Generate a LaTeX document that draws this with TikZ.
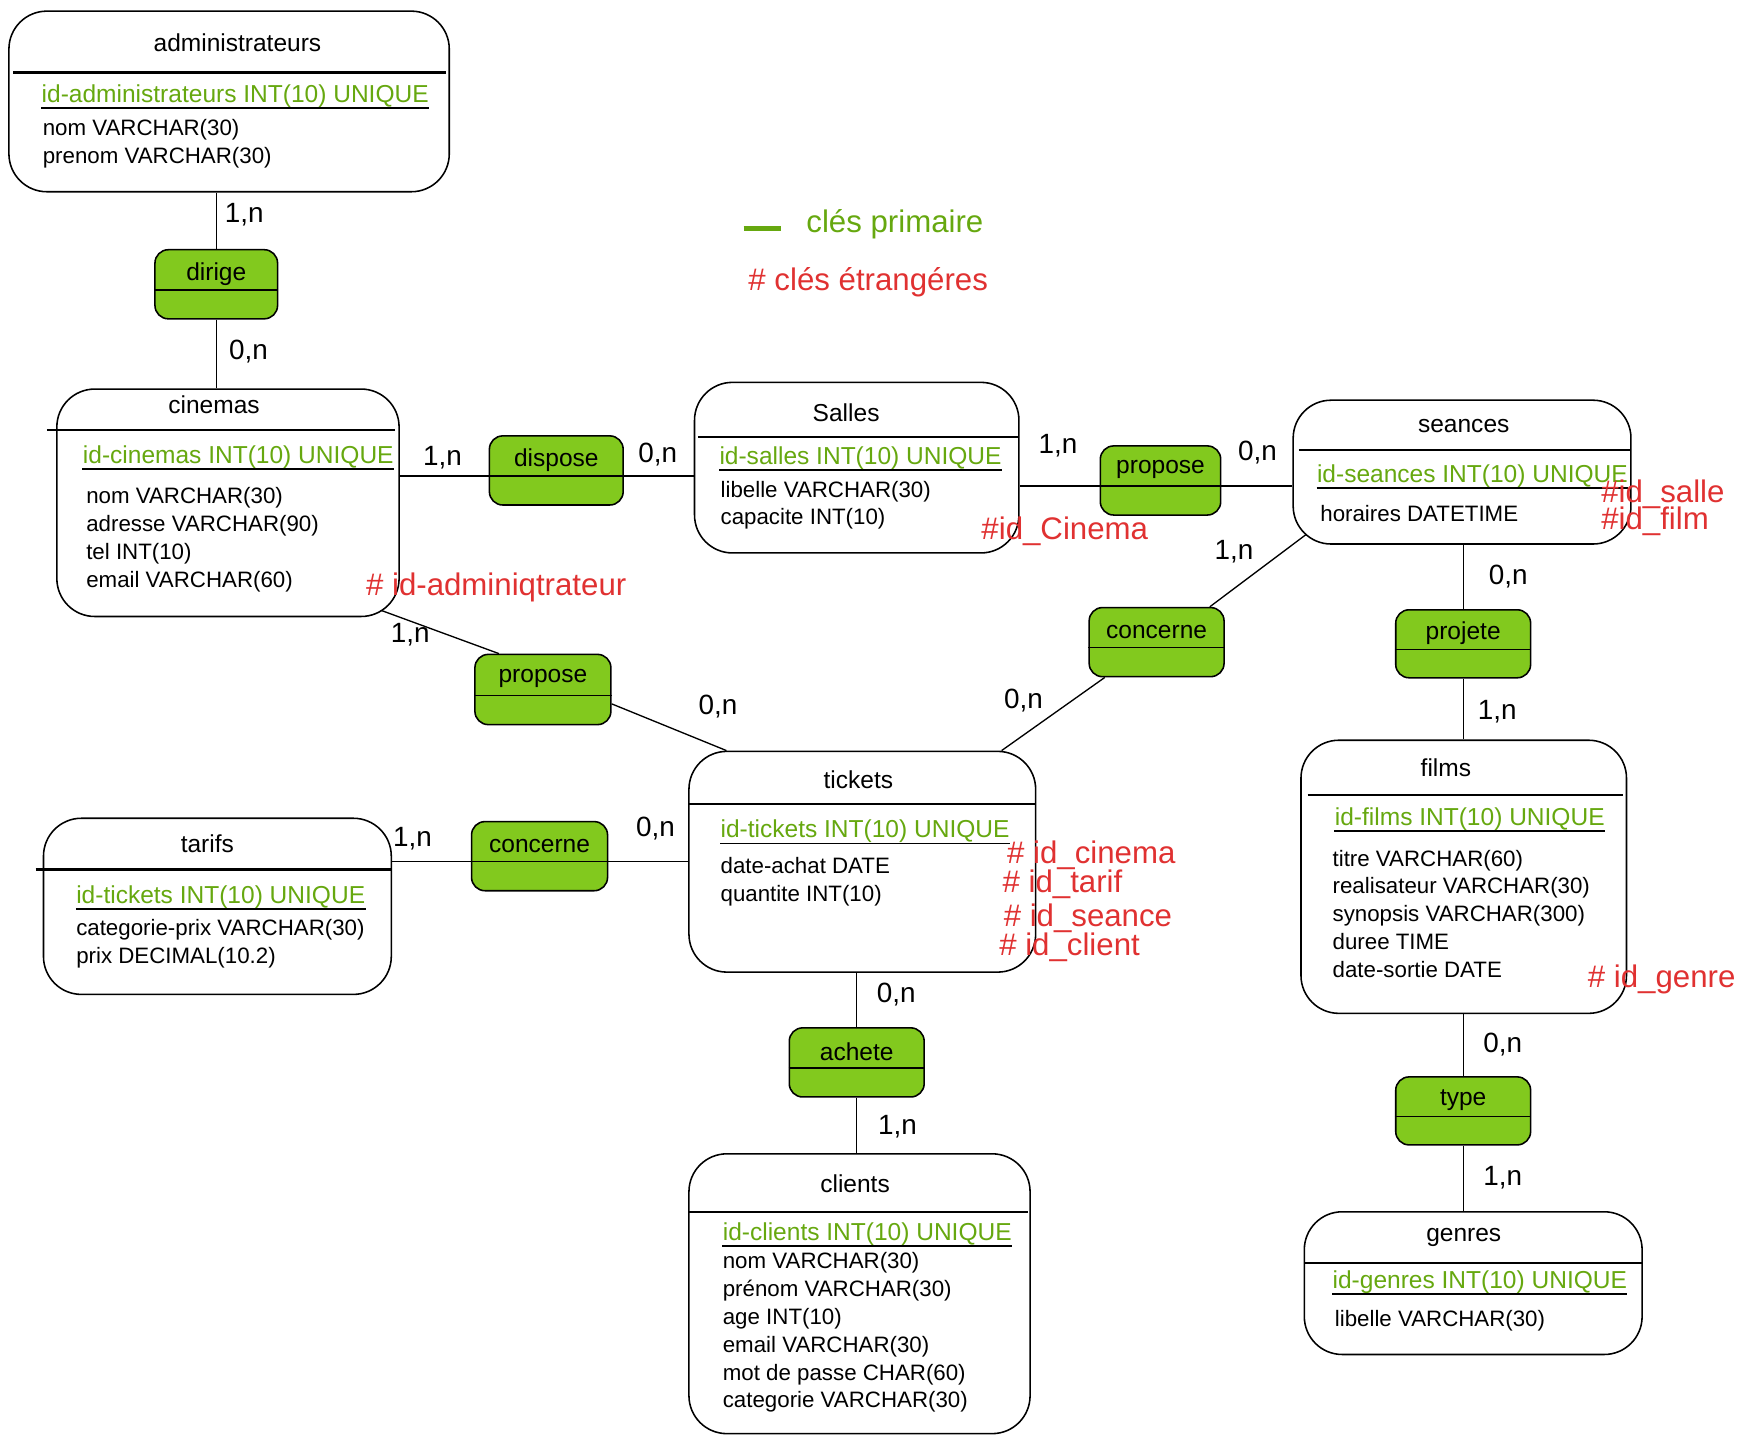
\documentclass[tikz,border=0pt]{standalone}
\usepackage{fontspec}
\setmainfont{Liberation Sans}
\usetikzlibrary{calc,fit,backgrounds}
\definecolor{vertfond}{HTML}{82C91E}
\definecolor{vertcle}{HTML}{66A80F}
\definecolor{rougecle}{HTML}{E03131}
\tikzset{
	entite/.style={draw, line width=0.7pt, rounded corners=17pt, fill=white, inner sep=0pt},
	assoc/.style={draw, line width=0.7pt, rounded corners=6pt, fill=vertfond, inner sep=0pt},
	titre/.style={font=\fontsize{11}{13}\selectfont, inner sep=0pt},
	cle/.style={font=\fontsize{11}{13}\selectfont, text=vertcle, inner sep=0pt, anchor=west},
	champs/.style={font=\fontsize{10}{12.5}\selectfont, align=left, inner sep=0pt, anchor=north west},
	etrangere/.style={font=\fontsize{14}{16}\selectfont, text=rougecle, inner sep=0pt, anchor=west},
	legende/.style={font=\fontsize{14}{16}\selectfont, inner sep=0pt, anchor=west},
	card/.style={font=\fontsize{12.5}{14}\selectfont, inner sep=0pt},
	lien/.style={line width=0.6pt},
	entete/.style={line width=1pt},
	souligne/.style={line width=0.8pt}
}
\def\assoc(#1)(#2)(#3)#4{\node[assoc, fit={(#2) (#3)}] (#1) {};
	\node[titre] (l-#1) at ($(#1.north)!0.35!(#1.south)$) {#4};
	\coordinate (#1-sep) at ($(#1.north west)!0.58!(#1.south west)$);}
\def\assocsep(#1){\draw[lien] (#1-sep) -- (#1-sep -| #1.east);}
\def\clep(#1)(#2)#3{\node[cle] (#1) at (#2) {#3};
	\draw[souligne] (#1.south west) -- (#1.south east);}

\begin{document}
\begin{tikzpicture}[x=0.5pt, y=-0.5pt]
		\useasboundingbox (0,0) rectangle (1568,1304);
		
		%%%%% ENTITES %%%%%
		
		\node[entite, fit={(8,10) (403,172)}] (administrateurs) {};
		\node[titre] (t-administrateurs) at (213,38) {administrateurs};
		\draw[entete] (12,65) -- (400,65);
		\clep(pk-administrateurs)(37,86){id-administrateurs INT(10) UNIQUE}
		\node[champs] (c-administrateurs) at (38,107) {nom VARCHAR(30)\\prenom VARCHAR(30)};
		
		\node[entite, fit={(51,349) (358,553)}] (cinemas) {};
		\node[titre] (t-cinemas) at (192,363) {cinemas};
		\draw[entete] (42,386) -- (354,386);
		\clep(pk-cinemas)(74,410){id-cinemas INT(10) UNIQUE}
		\node[champs] (c-cinemas) at (77,437) {nom VARCHAR(30)\\adresse VARCHAR(90)\\tel INT(10)\\email VARCHAR(60)};
		\node[etrangere] (fk-cinemas) at (328,527) {\# id-adminiqtrateur};
		
		\node[entite, fit={(623,343) (914,496)}] (salles) {};
		\node[titre] (t-salles) at (759,370) {Salles};
		\draw[entete] (626,392) -- (914,392);
		\clep(pk-salles)(645,411){id-salles INT(10) UNIQUE}
		\node[champs] (c-salles) at (646,431) {libelle VARCHAR(30)\\capacite INT(10)};
		\node[etrangere] (fk-salles) at (880,477) {\#id\_Cinema};
		
		\node[entite, fit={(1160,359) (1463,488)}] (seances) {};
		\node[titre] (t-seances) at (1313,382) {seances};
		\draw[entete] (1165,404) -- (1462,404);
		\clep(pk-seances)(1181,427){id-seances INT(10) UNIQUE}
		\node[champs] (c-seances) at (1184,453) {horaires DATETIME};
		\node[etrangere] (fk-seances-1) at (1436,443) {\#id\_salle};
		\node[etrangere] (fk-seances-2) at (1436,468) {\#id\_film};
		
		\node[entite, fit={(1167,664) (1459,909)}] (films) {};
		\node[titre] (t-films) at (1297,689) {films};
		\draw[entete] (1173,713) -- (1456,713);
		\clep(pk-films)(1197,735){id-films INT(10) UNIQUE}
		\node[champs] (c-films) at (1195,762) {titre VARCHAR(60)\\realisateur VARCHAR(30)\\synopsis VARCHAR(300)\\duree TIME\\date-sortie DATE};
		\node[etrangere] (fk-films) at (1424,879) {\# id\_genre};
		
		\node[entite, fit={(1170,1087) (1473,1215)}] (genres) {};
		\node[titre] (t-genres) at (1313,1110) {genres};
		\draw[entete] (1170,1133) -- (1473,1133);
		\clep(pk-genres)(1195,1150){id-genres INT(10) UNIQUE}
		\node[champs] (c-genres) at (1197,1175) {libelle VARCHAR(30)};
		
		\node[entite, fit={(618,674) (929,872)}] (tickets) {};
		\node[titre] (t-tickets) at (770,699) {tickets};
		\draw[entete] (618,721) -- (928,721);
		\clep(pk-tickets)(646,746){id-tickets INT(10) UNIQUE}
		\node[champs] (c-tickets) at (646,769) {date-achat DATE\\quantite INT(10)};
		\node[etrangere] (fk-tickets-1) at (903,767) {\# id\_cinema};
		\node[etrangere] (fk-tickets-2) at (899,793) {\# id\_tarif};
		\node[etrangere] (fk-tickets-3) at (900,824) {\# id\_seance};
		\node[etrangere] (fk-tickets-4) at (896,850) {\# id\_client};
		
		\node[entite, fit={(39,734) (351,892)}] (tarifs) {};
		\node[titre] (t-tarifs) at (186,757) {tarifs};
		\draw[entete] (32,780) -- (351,780);
		\clep(pk-tarifs)(68,805){id-tickets INT(10) UNIQUE}
		\node[champs] (c-tarifs) at (68,824) {categorie-prix VARCHAR(30)\\prix DECIMAL(10.2)};
		
		\node[entite, fit={(618,1035) (924,1286)}] (clients) {};
		\node[titre] (t-clients) at (767,1062) {clients};
		\draw[entete] (618,1087) -- (922,1087);
		\clep(pk-clients)(648,1107){id-clients INT(10) UNIQUE}
		\node[champs] (c-clients) at (648,1123) {nom VARCHAR(30)\\prénom VARCHAR(30)\\age INT(10)\\email VARCHAR(30)\\mot de passe CHAR(60)\\categorie VARCHAR(30)};
		
		%%%%% ASSOCIATIONS %%%%%
		
		\assoc(dirige)(139,224)(249,286){dirige} \assocsep(dirige)
		\assoc(dispose)(439,391)(559,453){dispose}
		\assoc(propose-s)(987,400)(1095,462){propose}
		\assoc(concerne-s)(977,545)(1098,607){concerne} \assocsep(concerne-s)
		\assoc(projete)(1252,547)(1373,608){projete} \assocsep(projete)
		\assoc(propose-c)(426,587)(548,650){propose} \assocsep(propose-c)
		\assoc(concerne-t)(423,737)(545,799){concerne}
		\assoc(achete)(708,922)(829,984){achete} \assocsep(achete)
		\assoc(type)(1252,966)(1373,1027){type} \assocsep(type)
		
		\draw[lien] (cinemas.east |- dispose-sep) -- (salles.west |- dispose-sep);
		\draw[lien] (salles.east |- propose-s-sep) -- (seances.west |- propose-s-sep);
		\draw[lien] (tarifs.east |- concerne-t-sep) -- (tickets.west |- concerne-t-sep);
		
		\begin{pgfonlayer}{background}
		\draw[lien] (dirige.north |- administrateurs.south) -- (dirige.north);
		\draw[lien] (dirige.south) -- (dirige.south |- cinemas.north);
		\draw[lien, shorten <=-14pt] (cinemas.south east) -- ($(propose-c.north west)!0.18!(propose-c.north east)$);
		\draw[lien] ($(propose-c.north east)!0.7!(propose-c.south east)$) -- ($(tickets.north west)!0.11!(tickets.north east)$);
		\draw[lien, shorten <=-14pt] (seances.south west) -- ($(concerne-s.north west)!0.89!(concerne-s.north east)$);
		\draw[lien] ($(concerne-s.south west)!0.12!(concerne-s.south east)$) -- ($(tickets.north west)!0.9!(tickets.north east)$);
		\draw[lien] (projete.north |- seances.south) -- (projete.north);
		\draw[lien] (projete.south) -- (projete.south |- films.north);
		\draw[lien] (type.north |- films.south) -- (type.north);
		\draw[lien] (type.south) -- (type.south |- genres.north);
		\draw[lien] (achete.north |- tickets.south) -- (achete.north);
		\draw[lien] (achete.south) -- (achete.south |- clients.north);
		\end{pgfonlayer}
		
		%%%%% CARDINALITES %%%%%
		
		\node[card] (k1) at (219,193) {1,n};
		\node[card] (k2) at (223,315) {0,n};
		\node[card] (k3) at (397,411) {1,n};
		\node[card] (k4) at (590,408) {0,n};
		\node[card] (k5) at (949,400) {1,n};
		\node[card] (k6) at (1128,406) {0,n};
		\node[card] (k7) at (1107,495) {1,n};
		\node[card] (k8) at (918,628) {0,n};
		\node[card] (k9) at (1353,517) {0,n};
		\node[card] (k10) at (1343,638) {1,n};
		\node[card] (k11) at (368,569) {1,n};
		\node[card] (k12) at (644,634) {0,n};
		\node[card] (k13) at (370,752) {1,n};
		\node[card] (k14) at (588,743) {0,n};
		\node[card] (k15) at (804,892) {0,n};
		\node[card] (k16) at (805,1011) {1,n};
		\node[card] (k17) at (1348,937) {0,n};
		\node[card] (k18) at (1348,1056) {1,n};
		
		%%%%% LEGENDE %%%%%
		
		\draw[vertcle, line width=2pt] (667,205) -- (701,205);
		\node[legende, text=vertcle] (leg-primaire) at (723,201) {clés primaire};
		\node[legende, text=rougecle] (leg-etrangere) at (671,253) {\# clés étrangéres};
		
	\end{tikzpicture}
\end{document}
